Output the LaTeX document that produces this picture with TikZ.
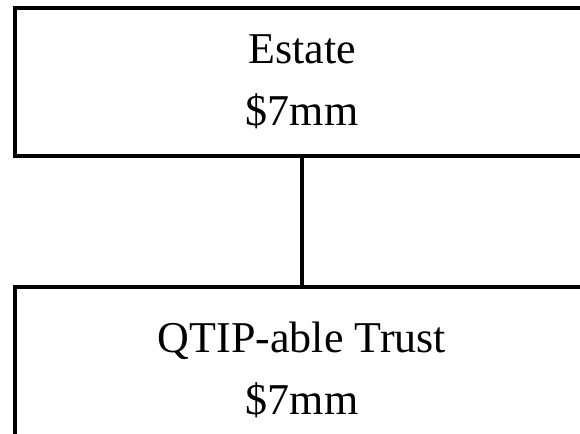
\documentclass[tikz,border=0pt]{standalone}
\usepackage{fontspec}
\setmainfont{Liberation Serif}
\begin{document}
\begin{tikzpicture}[x=1pt,y=-1pt,
  entity/.style={draw=black,line width=4pt,minimum width=574pt,
    inner sep=0pt,align=center,font=\fontsize{44}{62}\selectfont},
  link/.style={draw=black,line width=4pt}]
\useasboundingbox (0,0) rectangle (580,433);
\clip (0,0) rectangle (580,433);
\node[entity,minimum height=148pt] (estate) at (302,82) {Estate\\\$7mm};
\node[entity,minimum height=166pt] (trust) at (302,370) {QTIP-able Trust\\\$7mm};
\draw[link] (estate.south) -- (trust.north);
\end{tikzpicture}
\end{document}
